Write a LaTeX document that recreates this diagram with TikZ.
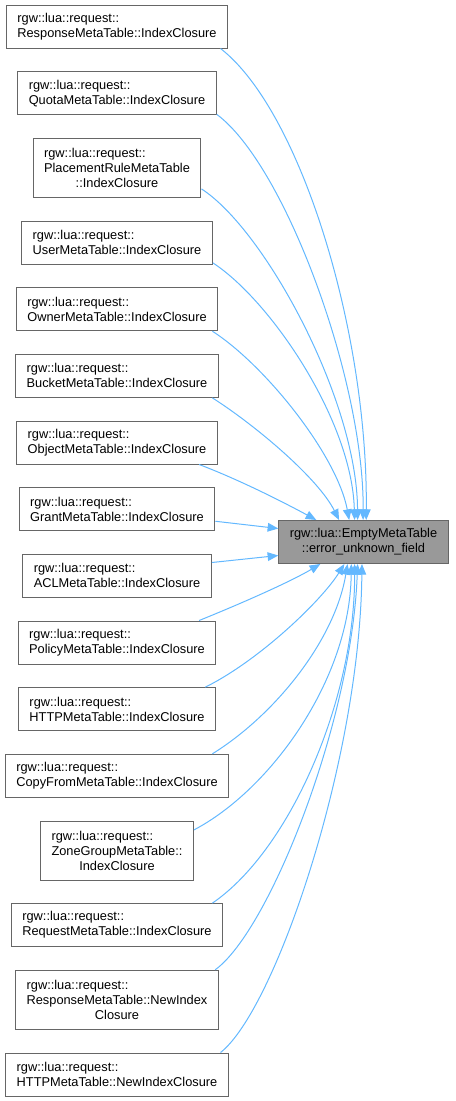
\documentclass[tikz,border=0pt]{standalone}
\usepackage{fontspec}
\setmainfont{Liberation Sans}
\usepackage{xcolor}
\usepackage{tikz}
\usetikzlibrary{positioning,arrows.meta}

\definecolor{edgeblue}{HTML}{63B8FF}
\definecolor{boxline}{HTML}{666666}
\definecolor{rootfill}{HTML}{999999}

\tikzset{
  fn/.style={draw=boxline, fill=white, line width=0.75pt, align=left,
    inner xsep=8.3pt, inner ysep=0pt, minimum height=32.25pt,
    font=\fontsize{9.6}{11.25}\selectfont},
  fnlong/.style={fn, minimum height=44.25pt},
  root/.style={fn, fill=rootfill, align=center},
  call/.style={draw=edgeblue, line width=0.75pt}
}

\begin{document}
\begin{tikzpicture}[x=0.75pt, y=-0.75pt, node distance=17pt,
    >={Triangle[length=8pt,width=6.5pt]}]
      \useasboundingbox (0,0) rectangle (455,1101);
      \node[fn] (resp) at (117,26.5) {rgw::lua::request::\\ResponseMetaTable::IndexClosure};
      \node[fn] (quota) [below=of resp] {rgw::lua::request::\\QuotaMetaTable::IndexClosure};
      \node[fnlong] (place) [below=of quota] {rgw::lua::request::\\PlacementRuleMetaTable\\\hfil ::IndexClosure};
      \node[fn] (user) [below=of place] {rgw::lua::request::\\UserMetaTable::IndexClosure};
      \node[fn] (owner) [below=of user] {rgw::lua::request::\\OwnerMetaTable::IndexClosure};
      \node[fn] (bucket) [below=of owner] {rgw::lua::request::\\BucketMetaTable::IndexClosure};
      \node[fn] (object) [below=of bucket] {rgw::lua::request::\\ObjectMetaTable::IndexClosure};
      \node[fn] (grant) [below=of object] {rgw::lua::request::\\GrantMetaTable::IndexClosure};
      \node[fn] (acl) [below=of grant] {rgw::lua::request::\\ACLMetaTable::IndexClosure};
      \node[fn] (policy) [below=of acl] {rgw::lua::request::\\PolicyMetaTable::IndexClosure};
      \node[fn] (httpidx) [below=of policy] {rgw::lua::request::\\HTTPMetaTable::IndexClosure};
      \node[fn] (copy) [below=of httpidx] {rgw::lua::request::\\CopyFromMetaTable::IndexClosure};
      \node[fnlong] (zone) [below=of copy] {rgw::lua::request::\\ZoneGroupMetaTable::\\\hfil IndexClosure};
      \node[fn] (req) [below=of zone] {rgw::lua::request::\\RequestMetaTable::IndexClosure};
      \node[fnlong] (respnew) [below=of req] {rgw::lua::request::\\ResponseMetaTable::NewIndex\\\hfil Closure};
      \node[fn] (httpnew) [below=of respnew] {rgw::lua::request::\\HTTPMetaTable::NewIndexClosure};
      \node[root] (t) at (363.5,542) {rgw::lua::EmptyMetaTable\\::error\_unknown\_field};
      % callers above the target
      \draw[call,->] (resp.-12) .. controls (300,110) and (368,330) .. (t.83);
      \draw[call,->] (quota.-12) .. controls (285,165) and (364,380) .. (t.91);
      \draw[call,->] (place.-14) .. controls (265,230) and (357,400) .. (t.105);
      \draw[call,->] (user.-12) .. controls (270,300) and (352,420) .. (t.112);
      \draw[call,->] (owner.-13) .. controls (265,365) and (337,455) .. (t.123);
      \draw[call,->] (bucket.-13) .. controls (255,425) and (318,478) .. (t.138);
      \draw[call,->] (object.-15) .. controls (240,480) and (285,503) .. (t.155);
      \draw[call,->] (grant.-7) -- (t.171.5);
      \draw[call,->] (acl.8) -- (t.189);
      % callers below the target
      \draw[call,->] (policy.15) .. controls (240,604) and (290,582) .. (t.207);
      \draw[call,->] (httpidx.14) .. controls (260,660) and (322,600) .. (t.229);
      \draw[call,->] (copy.13) .. controls (275,715) and (335,640) .. (t.234);
      \draw[call,->] (zone.15) .. controls (270,790) and (350,680) .. (t.241);
      \draw[call,->] (req.13) .. controls (290,850) and (355,700) .. (t.248);
      \draw[call,->] (respnew.17) .. controls (270,930) and (352,720) .. (t.255);
      \draw[call,->] (httpnew.12) .. controls (275,1010) and (360,760) .. (t.266);
\end{tikzpicture}
\end{document}
